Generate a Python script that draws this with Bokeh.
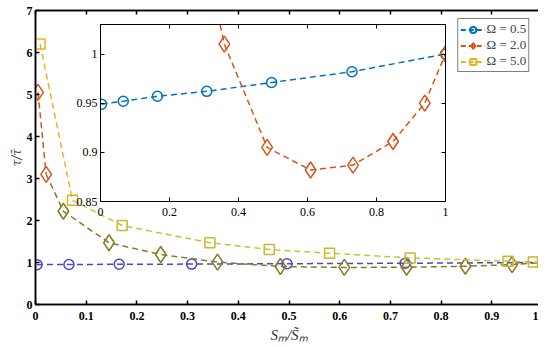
from bokeh.plotting import figure
from bokeh.models import (Range1d, LinearAxis, FixedTicker, Legend, LegendItem,
                          NumeralTickFormatter, GridBox)
from bokeh.embed import file_html
from bokeh.resources import INLINE

# ---- data ----
labels = ["\u03a9 = 0.5", "\u03a9 = 2.0", "\u03a9 = 5.0"]
x05 = [0.003, 0.066, 0.165, 0.308, 0.496, 0.729, 1.0]
y05 = [0.949, 0.952, 0.957, 0.962, 0.971, 0.982, 1.0]
x20 = [0.005, 0.021, 0.055, 0.145, 0.247, 0.359, 0.483, 0.609, 0.732, 0.848, 0.940, 1.0]
y20 = [5.05, 3.10, 2.22, 1.47, 1.19, 1.010, 0.905, 0.882, 0.887, 0.911, 0.950, 1.0]
x50 = [0.009, 0.073, 0.171, 0.344, 0.461, 0.580, 0.739, 0.932, 0.982, 1.0]
y50 = [6.20, 2.48, 1.88, 1.47, 1.31, 1.22, 1.11, 1.03, 1.01, 1.00]
main_xticks = [0, 0.1, 0.2, 0.3, 0.4, 0.5, 0.6, 0.7, 0.8, 0.9, 1.0]
main_yticks = [0, 1, 2, 3, 4, 5, 6, 7]
inset_xticks = [0, 0.2, 0.4, 0.6, 0.8, 1.0]
inset_yticks = [0.85, 0.9, 0.95, 1.0]

C_BLUE, C_RED, C_YEL = "#0072BD", "#D95319", "#EDB120"
M_BLUE, M_OLIVE, M_YEL, M_YLINE = "#4848CC", "#8A7A22", "#CDB52C", "#C4C634"
SERIF = "Liberation Serif"
DASH = "6 4"


def style_axis(ax, ticks, fmt, bold, show_labels, lw):
    ax.ticker = FixedTicker(ticks=ticks)
    ax.formatter = NumeralTickFormatter(format=fmt)
    ax.major_tick_in = 4
    ax.major_tick_out = 0
    ax.minor_tick_line_color = None
    ax.axis_line_width = lw
    ax.major_tick_line_width = lw
    ax.axis_line_color = "black"
    ax.major_tick_line_color = "black"
    ax.major_label_text_font = SERIF
    ax.major_label_text_font_style = "bold" if bold else "normal"
    ax.major_label_text_color = "black"
    if show_labels:
        ax.major_label_text_font_size = "12px"
    else:
        ax.major_label_text_font_size = "0px"
        ax.major_label_standoff = 0


# ---- main figure ----
p = figure(frame_width=507, frame_height=294, x_range=Range1d(0, 1), y_range=Range1d(0, 7),
           output_backend="svg", toolbar_location=None,
           min_border_left=25, min_border_right=2, min_border_top=10, min_border_bottom=34)
p.grid.visible = False
p.outline_line_color = "black"
p.outline_line_width = 1.5
p.background_fill_color = "white"

style_axis(p.xaxis[0], main_xticks, "0.[0]", True, True, 1.5)
style_axis(p.yaxis[0], main_yticks, "0", True, True, 1.5)
p.xaxis[0].major_label_standoff = 7
p.yaxis[0].major_label_standoff = 3
p.xaxis[0].axis_label = "S\u2098/S\u0303\u2098"
p.yaxis[0].axis_label = "\u03c4/\u03c4\u0304"
p.xaxis[0].axis_label_text_font = SERIF
p.xaxis[0].axis_label_text_font_style = "italic"
p.xaxis[0].axis_label_text_font_size = "15px"
p.xaxis[0].axis_label_standoff = 4
p.xaxis[0].axis_label_text_color = "#333333"
p.yaxis[0].axis_label_text_font = "DejaVu Serif"
p.yaxis[0].axis_label_text_font_style = "italic"
p.yaxis[0].axis_label_text_font_size = "12px"
p.yaxis[0].axis_label_standoff = 0
p.yaxis[0].axis_label_text_color = "#444444"

top_ax = LinearAxis()
style_axis(top_ax, main_xticks, "0.[0]", True, False, 1.5)
p.add_layout(top_ax, "above")
right_ax = LinearAxis()
style_axis(right_ax, main_yticks, "0", True, False, 1.5)
p.add_layout(right_ax, "right")

# Omega = 0.5 (main)
p.line(x05, y05, line_color=M_BLUE, line_width=1.5, line_dash=DASH)
p.scatter(x05, y05, marker="circle", size=10, line_color=M_BLUE, line_width=1.5, fill_color=None)
# Omega = 2.0 (main)
p.line(x20[1:], y20[1:], line_color=M_OLIVE, line_width=1.5, line_dash=DASH)
p.line(x20[:2], y20[:2], line_color=C_RED, line_width=1.5, line_dash=DASH)
p.scatter(x20[2:], y20[2:], marker="diamond", size=16, line_color=M_OLIVE, line_width=1.5, fill_color=None)
p.scatter(x20[:2], y20[:2], marker="diamond", size=16, line_color=C_RED, line_width=1.5, fill_color=None)
# Omega = 5.0 (main)
p.line(x50[1:], y50[1:], line_color=M_YLINE, line_width=1.5, line_dash=DASH)
p.line(x50[:2], y50[:2], line_color=C_YEL, line_width=1.5, line_dash=DASH)
p.scatter(x50[1:], y50[1:], marker="square", size=10, line_color=M_YEL, line_width=1.5, fill_color=None)
p.scatter(x50[:1], y50[:1], marker="square", size=10, line_color=C_YEL, line_width=1.5, fill_color=None)

# legend renderers: hidden copies of the series carrying the legend colours
items = []
for lab, col, mk, sz, xs, ys in zip(labels, [C_BLUE, C_RED, C_YEL], ["circle", "diamond", "square"],
                                    [9, 14, 9], [x05, x20, x50], [y05, y20, y50]):
    lr = p.line(xs, ys, line_color=col, line_width=2, line_dash="5 3", visible=False)
    sr = p.scatter(xs, ys, marker=mk, size=sz, line_color=col, line_width=2,
                   fill_color=None, visible=False)
    items.append(LegendItem(label=lab, renderers=[lr, sr]))
leg = Legend(items=items, location="top_right", click_policy="none")
leg.margin = 8
leg.padding = 2
leg.spacing = 0
leg.glyph_width = 25
leg.glyph_height = 15
leg.label_standoff = 1
leg.label_height = 15
leg.label_text_font = SERIF
leg.label_text_font_size = "13px"
leg.border_line_color = "black"
leg.border_line_width = 1.5
leg.background_fill_color = "white"
leg.background_fill_alpha = 1.0
p.add_layout(leg)

# ---- inset figure ----
q = figure(frame_width=345, frame_height=177, x_range=Range1d(0, 1), y_range=Range1d(0.85, 1.03),
           output_backend="svg", toolbar_location=None,
           min_border_left=35, min_border_right=4, min_border_top=4, min_border_bottom=22)
q.grid.visible = False
q.border_fill_color = None
q.background_fill_color = "white"
q.outline_line_color = "black"
q.outline_line_width = 1
style_axis(q.xaxis[0], inset_xticks, "0.[0]", False, True, 1)
style_axis(q.yaxis[0], inset_yticks, "0.[00]", False, True, 1)
q.xaxis[0].major_label_standoff = 6
q.yaxis[0].major_label_standoff = 3
qt = LinearAxis()
style_axis(qt, inset_xticks, "0.[0]", False, False, 1)
q.add_layout(qt, "above")
qr = LinearAxis()
style_axis(qr, inset_yticks, "0.[00]", False, False, 1)
q.add_layout(qr, "right")

q.line(x05, y05, line_color=C_BLUE, line_width=1.5, line_dash=DASH)
q.scatter(x05, y05, marker="circle", size=10, line_color=C_BLUE, line_width=1.5, fill_color=None)
q.line(x20, y20, line_color=C_RED, line_width=1.5, line_dash=DASH)
q.scatter(x20, y20, marker="diamond", size=16, line_color=C_RED, line_width=1.5, fill_color=None)

q.margin = (14, 0, 0, 65)
p.margin = (0, 0, 0, 0)

layout = GridBox(children=[(p, 0, 0), (q, 0, 0)], spacing=0)
open("out.html", "w").write(file_html(layout, INLINE))
